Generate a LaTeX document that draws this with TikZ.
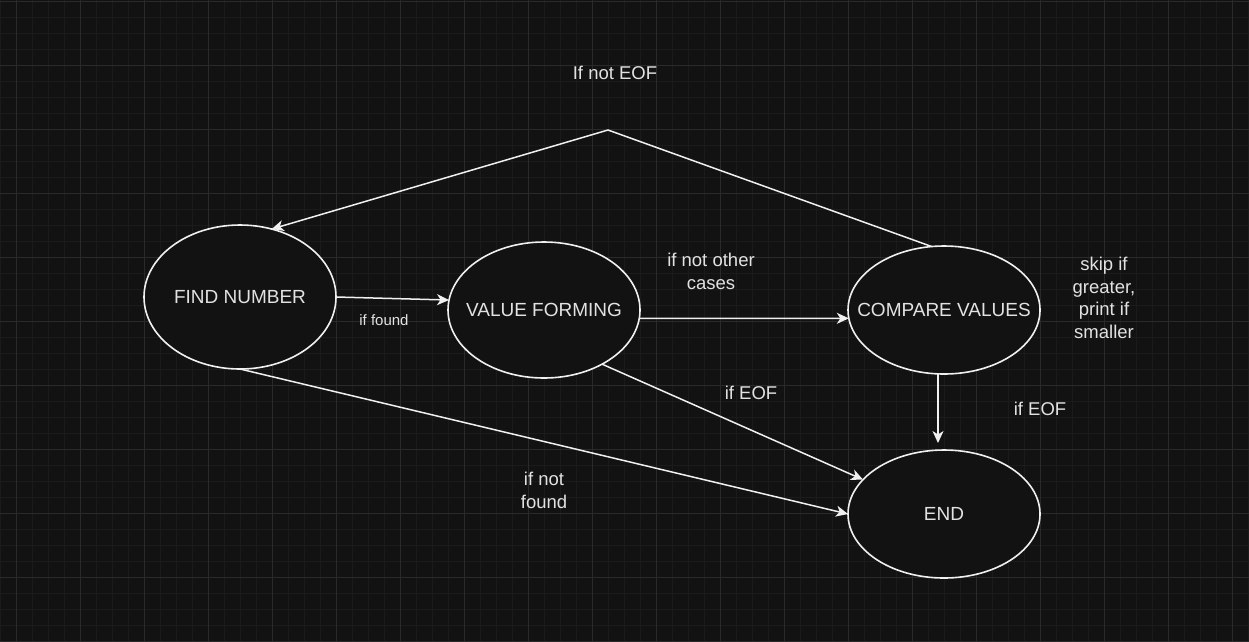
\documentclass[tikz,border=0pt]{standalone}
\usepackage{fontspec}
\setmainfont{Liberation Sans}
\usetikzlibrary{shapes.geometric,arrows.meta}
\definecolor{bg}{RGB}{18,18,18}
\definecolor{minorgrid}{RGB}{27,27,27}
\definecolor{majorgrid}{RGB}{42,42,42}
\definecolor{ink}{RGB}{240,240,240}
\definecolor{txt}{RGB}{226,226,226}
\begin{document}
\begin{tikzpicture}[x=1pt,y=-1pt,
  state/.style={ellipse, draw=ink, line width=1.6pt, fill=bg, inner sep=0pt, outer sep=0pt,
    minimum width=192pt},
  statetext/.style={text=txt, inner sep=0pt, font=\fontsize{19}{22}\selectfont},
  edge/.style={draw=ink, line width=1.5pt, -{Stealth[length=12pt,width=11pt,inset=3.5pt]}},
  plain/.style={draw=ink, line width=1.5pt},
  lbl/.style={text=txt, align=center, inner sep=0pt, font=\fontsize{18.5}{23}\selectfont},
  smalllbl/.style={text=txt, align=center, inner sep=0pt, font=\fontsize{15}{18}\selectfont}]
\useasboundingbox (0,0) rectangle (1249,641);
\fill[bg] (0,0) rectangle (1249,641);
% grid
\foreach \x in {0,16,...,1248} \draw[minorgrid, line width=1pt] (\x,0) -- (\x,641);
\foreach \y in {1,17,...,641} \draw[minorgrid, line width=1pt] (0,\y) -- (1249,\y);
\foreach \x in {16,80,...,1248} \draw[majorgrid, line width=1pt] (\x,0) -- (\x,641);
\foreach \y in {1,65,...,641} \draw[majorgrid, line width=1pt] (0,\y) -- (1249,\y);

% states
\node[state, minimum height=144pt] (f) at (240,297) {};
\node[state, minimum height=136pt] (v) at (544,310) {};
\node[state, minimum height=128pt] (c) at (944,310) {};
\node[state, minimum height=128pt] (e) at (944,514) {};
\node[statetext] (ft) at (f.center) {FIND NUMBER};
\node[statetext] (vt) at (v.center) {VALUE FORMING};
\node[statetext] (ct) at (c.center) {COMPARE VALUES};
\node[statetext] (et) at (e.center) {END};

\coordinate (apex) at (608,130);

% connectors
\draw[plain] (c.101) -- (apex);
\draw[edge] (apex) -- (f.65);
\draw[edge] (f.east) -- (v.174);
\draw[edge] (v.-5) -- (c.185);
\draw[edge] (v.-43) -- (e.157);
\draw[edge] (f.south) -- (e.west);
\draw[edge] ([xshift=-6pt]c.south) -- ([xshift=-6pt,yshift=7pt]e.north);

% labels
\node[lbl] (l1) at (615,73) {If not EOF};
\node[smalllbl] (l2) at (384,320) {if found};
\node[lbl] (l3) at (711,271) {if not other\\cases};
\node[lbl] (l4) at (751,393) {if EOF};
\node[lbl] (l5) at (544,490) {if not\\found};
\node[lbl] (l6) at (1040,409) {if EOF};
\node[lbl, font=\fontsize{18.5}{22.5}\selectfont] (l7) at (1104,298) {skip if\\greater,\\print if\\smaller};
\end{tikzpicture}
\end{document}
